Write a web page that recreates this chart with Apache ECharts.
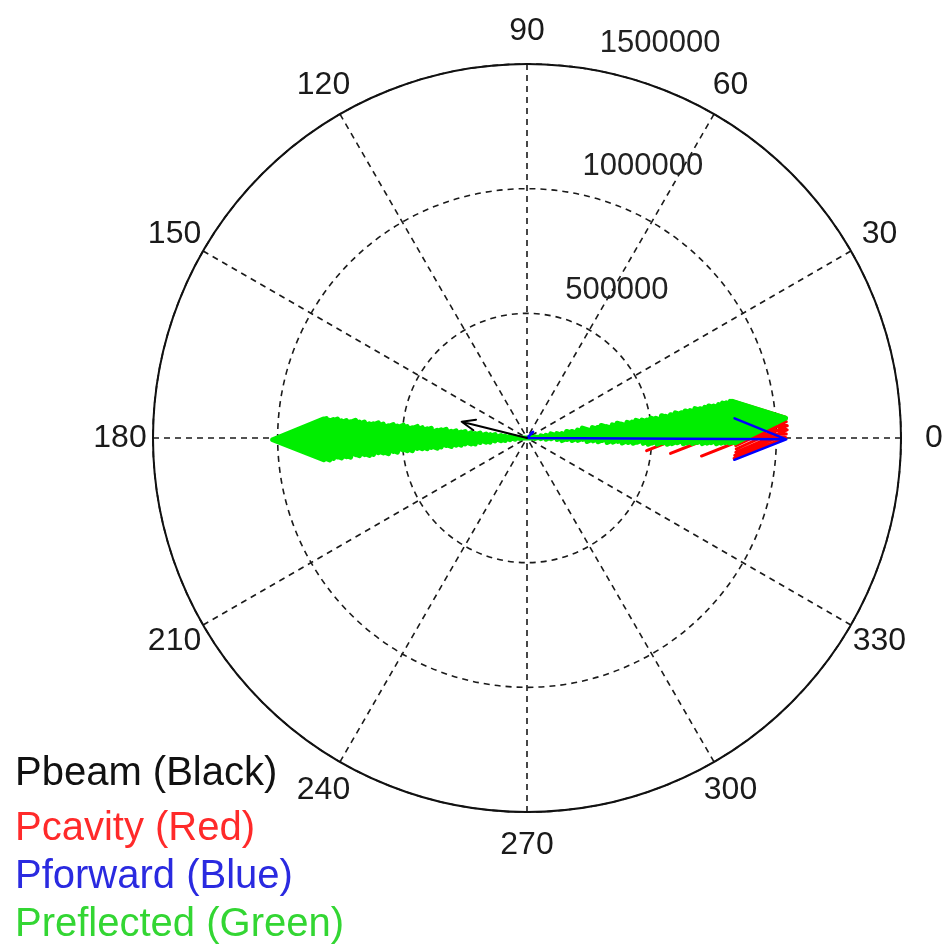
<!DOCTYPE html>
<html>
<head>
<meta charset="utf-8">
<script src="https://cdn.jsdelivr.net/npm/echarts@6/dist/echarts.min.js"></script>
<style>
  html, body { margin: 0; padding: 0; background: #ffffff; }
  #chart { width: 944px; height: 950px; }
</style>
</head>
<body>
<div id="chart"></div>
<script>
// Compass plot of RF power phasors: each entry is one arrow (angle in degrees, magnitude in W).
const angleTicks = [0, 30, 60, 90, 120, 150, 180, 210, 240, 270, 300, 330];
const radiusTicks = [0, 500000, 1000000, 1500000];

const beamAngle = [166];
const beamMag = [270000];

const cavityAngle = [4.6, 3.6, 2.7, 1.8, 0.9, 0.1, -0.2, -0.4, -0.3];
const cavityMag = [1040000, 1042000, 1045000, 1044000, 1040000, 1038000, 875000, 720000, 600000];

const forwardAngle = [-0.3, 45];
const forwardMag = [1040000, 35000];

// reflected power: one cluster pointing back at 180 deg, one near 0 deg
const reflectedAngle = [
  179.6, 180.4, 179.9, 180.8, 180.2, 179.5, 180.6, 180.1, 179.8, 180.9,
  180.3, 179.7, 180.5, 180.0, 180.7, 179.6, 180.2, 180.8, 179.9, 180.4,
  180.1, 179.7, 180.6, 180.3, 179.8, 180.5, 180.0, 180.7, 180.2, 179.9,
  180.4, 180.6, 180.1, 180.3, 179.8, 180.5, 180.2, 180.4, 180.0, 180.3,
  180.6, 180.2, 180.4,
  1.8, 3.4, 2.2, 4.1, 2.9, 1.5, 3.7, 2.6, 3.1, 4.4,
  2.4, 3.3, 2.8, 3.9, 2.5, 3.0, 3.6, 2.7, 3.2, 2.9,
  3.5, 3.1, 2.8, 3.4, 3.0, 3.7, 3.2, 3.5, 3.9, 3.6,
  4.0, 3.8, 4.2, 3.9, 4.1, 4.3, 4.0, 4.2, 4.4, 4.3,
  4.5, 4.4
];
const reflectedMag = [
  35000, 60000, 85000, 110000, 130000, 160000, 185000, 205000, 235000, 260000,
  280000, 310000, 330000, 355000, 380000, 405000, 430000, 450000, 480000, 500000,
  525000, 550000, 575000, 600000, 620000, 650000, 670000, 695000, 720000, 745000,
  770000, 790000, 815000, 840000, 860000, 885000, 905000, 930000, 950000, 970000,
  990000, 1005000, 1020000,
  40000, 70000, 95000, 120000, 150000, 175000, 200000, 225000, 255000, 280000,
  300000, 330000, 355000, 375000, 400000, 430000, 455000, 475000, 505000, 530000,
  550000, 580000, 605000, 625000, 650000, 680000, 700000, 725000, 750000, 780000,
  800000, 825000, 850000, 875000, 900000, 920000, 945000, 970000, 990000, 1010000,
  1030000, 1040000
];

const seriesNames = ['Pbeam (Black)', 'Pcavity (Red)', 'Pforward (Blue)', 'Preflected (Green)'];
const lineColors = ['#000000', '#ff0000', '#0000ff', '#00ee00'];
const legendColors = ['#111111', '#ff2a2a', '#2a2ae0', '#33d633'];

const FONT = '"Liberation Sans", Arial, Helvetica, sans-serif';

// Arrow shape used by a compass plot: shaft plus two barbs,
// head length 20% of the arrow, half width 8%.
const HEAD_LEN = 0.2, HEAD_HALF = 0.08;
const headR = Math.hypot(1 - HEAD_LEN, HEAD_HALF);
const headA = Math.atan2(HEAD_HALF, 1 - HEAD_LEN) * 180 / Math.PI;

function arrows(angles, mags) {
  const pts = [];
  angles.forEach((a, i) => {
    const m = mags[i];
    pts.push([0, a], [m, a], [m * headR, a + headA], [m, a], [m * headR, a - headA], ['-', '-']);
  });
  return pts;
}

function arrowSeries(idx, angles, mags, width, z) {
  return {
    name: seriesNames[idx],
    type: 'line',
    coordinateSystem: 'polar',
    polarIndex: 0,
    data: arrows(angles, mags),
    symbol: 'none',
    showSymbol: false,
    connectNulls: false,
    clip: false,
    animation: false,
    lineStyle: { color: lineColors[idx], width: width, join: 'round', cap: 'round' },
    itemStyle: { color: lineColors[idx] },
    emphasis: { disabled: true },
    z: z
  };
}

const CX = 527, CY = 438, R = 374;
const LABEL_R = 407;
const legendTops = [749, 804, 852, 900];
const gridLine = { color: '#1a1a1a', width: 1.6, type: [6, 5] };

const chart = echarts.init(document.getElementById('chart'), null, { renderer: 'canvas' });
chart.setOption({
  backgroundColor: '#ffffff',
  animation: false,
  polar: [
    { center: [CX, CY], radius: R },
    { center: [CX, CY], radius: R },
    { center: [CX, CY], radius: LABEL_R }
  ],
  angleAxis: [
    {
      polarIndex: 0,
      type: 'value',
      min: 0,
      max: 360,
      interval: 30,
      startAngle: 0,
      clockwise: false,
      axisLine: { show: true, lineStyle: { color: '#111', width: 2 } },
      axisTick: { show: false },
      axisLabel: { show: false },
      splitLine: { show: true, lineStyle: gridLine }
    },
    {
      polarIndex: 1,
      type: 'value',
      min: 0,
      max: 360,
      startAngle: 82,
      clockwise: false,
      show: false
    },
    {
      polarIndex: 2,
      type: 'value',
      min: 0,
      max: 360,
      startAngle: 0,
      clockwise: false,
      show: false
    }
  ],
  radiusAxis: [
    {
      polarIndex: 0,
      type: 'value',
      min: 0,
      max: 1500000,
      interval: 500000,
      axisLine: { show: false },
      axisTick: { show: false },
      axisLabel: { show: false },
      splitLine: { show: true, lineStyle: gridLine }
    },
    {
      polarIndex: 1,
      type: 'value',
      min: 0,
      max: 1500000,
      interval: 500000,
      axisLine: { show: false },
      axisTick: { show: false },
      splitLine: { show: false },
      axisLabel: {
        show: true,
        margin: -21,
        align: 'left',
        verticalAlign: 'bottom',
        padding: [0, 0, 12, 0],
        fontSize: 31,
        fontFamily: FONT,
        color: '#222',
        formatter: v => (v > 0 && radiusTicks.indexOf(v) >= 0 ? String(v) : '')
      }
    },
    {
      polarIndex: 2,
      type: 'value',
      min: 0,
      max: 1,
      show: false
    }
  ],
  legend: seriesNames.map((n, i) => ({
    data: [{ name: n, icon: 'none', textStyle: { color: legendColors[i] } }],
    orient: 'vertical',
    left: 5,
    top: legendTops[i],
    itemWidth: 0,
    itemHeight: 10,
    selectedMode: false,
    textStyle: { fontSize: 40, fontFamily: FONT }
  })),
  series: [
    arrowSeries(0, beamAngle, beamMag, 2, 6),
    arrowSeries(1, cavityAngle, cavityMag, 3, 3),
    arrowSeries(2, forwardAngle, forwardMag, 2.5, 5),
    arrowSeries(3, reflectedAngle, reflectedMag, 5, 4),
    {
      // angle tick labels, centred on a circle just outside the plot
      type: 'scatter',
      coordinateSystem: 'polar',
      polarIndex: 2,
      data: angleTicks.map(a => [1, a]),
      symbolSize: 1,
      itemStyle: { color: 'rgba(0,0,0,0)', opacity: 1 },
      silent: true,
      animation: false,
      clip: false,
      label: {
        show: true,
        position: 'inside',
        fontSize: 32,
        fontFamily: FONT,
        color: '#1a1a1a',
        opacity: 1,
        textBorderWidth: 0,
        formatter: p => String(p.value[1])
      },
      z: 7
    }
  ]
});
</script>
</body>
</html>
